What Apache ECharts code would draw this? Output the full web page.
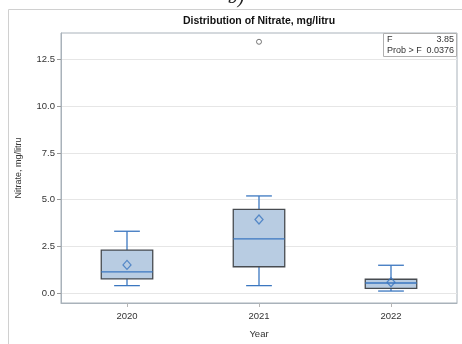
<!DOCTYPE html>
<html>
<head>
<meta charset="utf-8">
<script src="https://cdn.jsdelivr.net/npm/echarts@6/dist/echarts.min.js"></script>
<style>
  html, body { margin: 0; padding: 0; background: #fff; }
  #chart { width: 462px; height: 344px; }
</style>
</head>
<body>
<div id="chart"></div>
<script>
// Nitrate concentration by year (mg/litru)
var categories = ['2020', '2021', '2022'];
var whiskerLow = [0.40, 0.40, 0.11];
var q1 = [0.76, 1.41, 0.25];
var median = [1.14, 2.90, 0.54];
var q3 = [2.30, 4.48, 0.74];
var whiskerHigh = [3.31, 5.20, 1.49];
var means = [1.51, 3.94, 0.58];
var outliers = [['2021', 13.45]];
var yTicks = [0, 2.5, 5, 7.5, 10, 12.5];
var fStat = '3.85';
var probF = '0.0376';

var boxData = categories.map(function (c, i) {
  return [i, whiskerLow[i], q1[i], median[i], q3[i], whiskerHigh[i]];
});

var BLUE = '#3b77c0';
var FILL = '#b8cce2';
var EDGE = '#474b50';
var FRAME = '#a9b2ba';
var FONT = '"Liberation Sans", Arial, sans-serif';

function renderBox(params, api) {
  var x = api.value(0);
  var lo = api.coord([x, api.value(1)]);
  var b1 = api.coord([x, api.value(2)]);
  var md = api.coord([x, api.value(3)]);
  var b3 = api.coord([x, api.value(4)]);
  var hi = api.coord([x, api.value(5)]);
  var band = api.size([1, 0])[0];
  var bw = band * 0.39;
  var cw = bw / 2;
  var cx = lo[0];
  var lineStyle = { stroke: BLUE, lineWidth: 1.3 };
  return {
    type: 'group',
    children: [
      { type: 'line', shape: { x1: cx, y1: lo[1], x2: cx, y2: b1[1] }, style: lineStyle },
      { type: 'line', shape: { x1: cx, y1: b3[1], x2: cx, y2: hi[1] }, style: lineStyle },
      { type: 'line', shape: { x1: cx - cw / 2, y1: lo[1], x2: cx + cw / 2, y2: lo[1] }, style: lineStyle },
      { type: 'line', shape: { x1: cx - cw / 2, y1: hi[1], x2: cx + cw / 2, y2: hi[1] }, style: lineStyle },
      { type: 'rect', shape: { x: cx - bw / 2, y: b3[1], width: bw, height: b1[1] - b3[1] },
        style: { fill: FILL, stroke: EDGE, lineWidth: 1.3 } },
      { type: 'line', shape: { x1: cx - bw / 2, y1: md[1], x2: cx + bw / 2, y2: md[1] }, style: lineStyle }
    ]
  };
}

var chart = echarts.init(document.getElementById('chart'), null, { renderer: 'canvas' });
chart.setOption({
  animation: false,
  backgroundColor: '#fff',
  grid: { left: 61, right: 5, top: 33, bottom: 37, show: true, borderColor: FRAME, borderWidth: 1, containLabel: false },
  xAxis: {
    type: 'category',
    data: categories,
    name: 'Year',
    nameLocation: 'middle',
    nameGap: 26,
    nameTextStyle: { fontFamily: FONT, fontSize: 9.5, color: '#333' },
    axisLine: { show: true, onZero: false, lineStyle: { color: FRAME } },
    axisTick: { show: true, alignWithLabel: true, length: 4, lineStyle: { color: '#b5b5b5' } },
    axisLabel: { fontFamily: FONT, fontSize: 9.5, color: '#333', margin: 8 },
    splitLine: { show: false }
  },
  yAxis: {
    type: 'value',
    min: -0.53,
    max: 13.92,
    name: 'Nitrate, mg/litru',
    nameLocation: 'middle',
    nameGap: 38,
    nameTextStyle: { fontFamily: FONT, fontSize: 9, color: '#333' },
    axisLine: { show: true, lineStyle: { color: FRAME } },
    axisTick: { show: true, length: 4, lineStyle: { color: '#9a9a9a' }, customValues: yTicks },
    axisLabel: { fontFamily: FONT, fontSize: 9.5, color: '#333', margin: 6, customValues: yTicks,
      formatter: function (v) { return v.toFixed(1); } },
    splitLine: { show: true, lineStyle: { color: '#e6e6e6' } }
  },
  series: [
    {
      type: 'custom',
      renderItem: renderBox,
      data: boxData,
      encode: { x: 0, y: [1, 2, 3, 4, 5] },
      z: 2
    },
    {
      type: 'scatter',
      data: categories.map(function (c, i) { return [c, means[i]]; }),
      symbol: 'diamond',
      symbolSize: [8, 9],
      itemStyle: { color: 'rgba(0,0,0,0)', borderColor: BLUE, borderWidth: 1.3 },
      z: 3
    },
    {
      type: 'scatter',
      data: outliers,
      symbol: 'circle',
      symbolSize: 5,
      itemStyle: { color: '#fff', borderColor: '#555', borderWidth: 1 },
      z: 3
    }
  ],
  graphic: [
    { type: 'rect', shape: { x: 8.5, y: 9.5, width: 470, height: 350 }, style: { fill: 'none', stroke: '#d0d0d0', lineWidth: 1 }, z: -1 },
    { type: 'text', x: 236, y: -12, style: { text: 'b)', font: 'italic 20px "Liberation Serif", serif', fill: '#222', textAlign: 'center' } },
    { type: 'text', x: 259, y: 16, style: { text: 'Distribution of Nitrate, mg/litru', font: 'bold 10.5px ' + FONT, fill: '#111', textAlign: 'center' } },
    { type: 'rect', shape: { x: 383.5, y: 33.5, width: 73, height: 23 }, style: { fill: '#fff', stroke: '#b0b0b0', lineWidth: 1 }, z: 10 },
    { type: 'text', x: 387, y: 35, z: 11, style: { text: 'F', font: '9px ' + FONT, fill: '#333' } },
    { type: 'text', x: 454, y: 35, z: 11, style: { text: fStat, font: '9px ' + FONT, fill: '#333', textAlign: 'right' } },
    { type: 'text', x: 387, y: 46, z: 11, style: { text: 'Prob > F', font: '9px ' + FONT, fill: '#333' } },
    { type: 'text', x: 454, y: 46, z: 11, style: { text: probF, font: '9px ' + FONT, fill: '#333', textAlign: 'right' } }
  ]
});
</script>
</body>
</html>
